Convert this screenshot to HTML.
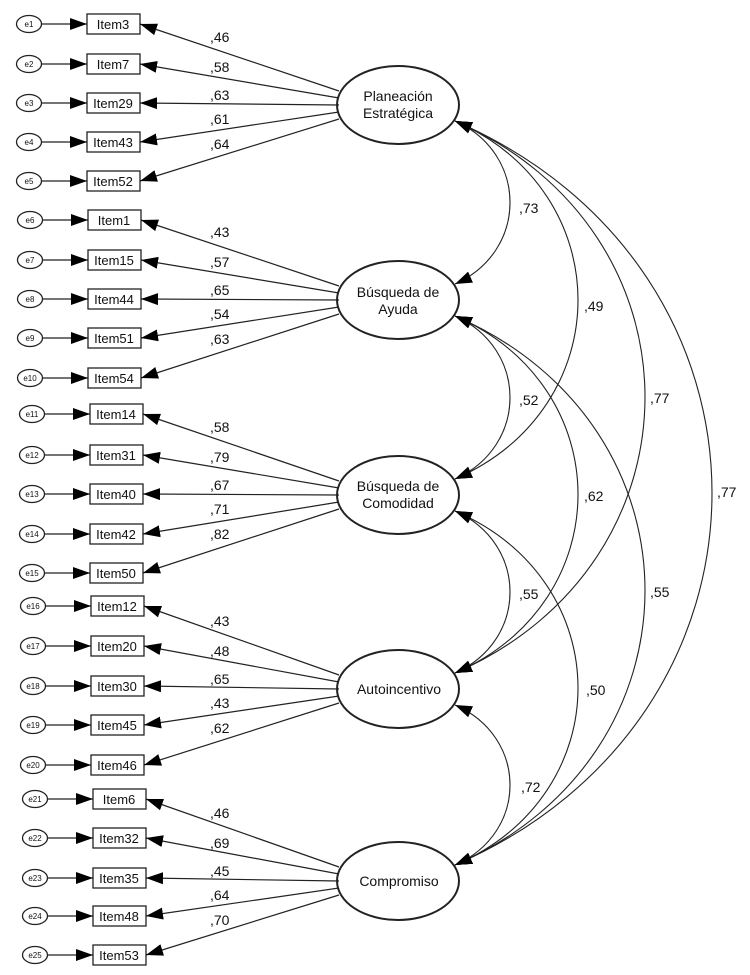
<!DOCTYPE html>
<html><head><meta charset="utf-8"><style>
html,body{margin:0;padding:0;background:#fff}
svg{display:block}
text{font-family:"Liberation Sans",Arial,sans-serif;fill:#111}
.it{font-size:13px;text-anchor:middle}
.e{font-size:8px;text-anchor:middle}
.f{font-size:14px;text-anchor:middle}
.l{font-size:14px}
</style></head><body>
<svg id="s" width="750" height="975" viewBox="0 0 750 975" xmlns="http://www.w3.org/2000/svg">
<defs>
<marker id="a" markerUnits="userSpaceOnUse" markerWidth="18" markerHeight="13" refX="17" refY="6" orient="auto-start-reverse" viewBox="0 0 18 12">
<path d="M0,0 L17,6 L0,12 z" fill="#000"/></marker>
</defs>
<g id="shapes" stroke="#222" fill="none"></g>
<g id="texts">
<text class="e" x="29" y="27">e1</text><text class="it" x="113" y="29">Item3</text>
<text class="e" x="29" y="67">e2</text><text class="it" x="113" y="69">Item7</text>
<text class="e" x="29" y="106">e3</text><text class="it" x="113" y="108">Item29</text>
<text class="e" x="29" y="145">e4</text><text class="it" x="113" y="147">Item43</text>
<text class="e" x="29" y="184">e5</text><text class="it" x="113" y="186">Item52</text>
<text class="e" x="30" y="223">e6</text><text class="it" x="114" y="225">Item1</text>
<text class="e" x="30" y="263">e7</text><text class="it" x="114" y="265">Item15</text>
<text class="e" x="30" y="302">e8</text><text class="it" x="114" y="304">Item44</text>
<text class="e" x="30" y="341">e9</text><text class="it" x="114" y="343">Item51</text>
<text class="e" x="30" y="381">e10</text><text class="it" x="114" y="383">Item54</text>
<text class="e" x="32" y="417">e11</text><text class="it" x="116" y="419">Item14</text>
<text class="e" x="32" y="458">e12</text><text class="it" x="116" y="460">Item31</text>
<text class="e" x="32" y="497">e13</text><text class="it" x="116" y="499">Item40</text>
<text class="e" x="32" y="537">e14</text><text class="it" x="116" y="539">Item42</text>
<text class="e" x="32" y="576">e15</text><text class="it" x="116" y="578">Item50</text>
<text class="e" x="33" y="609">e16</text><text class="it" x="117" y="611">Item12</text>
<text class="e" x="33" y="649">e17</text><text class="it" x="117" y="651">Item20</text>
<text class="e" x="33" y="689">e18</text><text class="it" x="117" y="691">Item30</text>
<text class="e" x="33" y="728">e19</text><text class="it" x="117" y="730">Item45</text>
<text class="e" x="33" y="768">e20</text><text class="it" x="117" y="770">Item46</text>
<text class="e" x="35" y="802">e21</text><text class="it" x="119" y="804">Item6</text>
<text class="e" x="35" y="841">e22</text><text class="it" x="119" y="843">Item32</text>
<text class="e" x="35" y="881">e23</text><text class="it" x="119" y="883">Item35</text>
<text class="e" x="35" y="919">e24</text><text class="it" x="119" y="921">Item48</text>
<text class="e" x="35" y="958">e25</text><text class="it" x="119" y="960">Item53</text>
<text class="f" x="398" y="101">Planeación</text><text class="f" x="398" y="118">Estratégica</text>
<text class="f" x="398" y="297">Búsqueda de</text><text class="f" x="398" y="314">Ayuda</text>
<text class="f" x="398" y="491">Búsqueda de</text><text class="f" x="398" y="508">Comodidad</text>
<text class="f" x="399" y="694">Autoincentivo</text>
<text class="f" x="399" y="886">Compromiso</text>
<text class="l" x="210" y="42">,46</text><text class="l" x="210" y="72">,58</text><text class="l" x="210" y="100">,63</text><text class="l" x="210" y="124">,61</text><text class="l" x="210" y="149">,64</text>
<text class="l" x="210" y="237">,43</text><text class="l" x="210" y="267">,57</text><text class="l" x="210" y="295">,65</text><text class="l" x="210" y="319">,54</text><text class="l" x="210" y="344">,63</text>
<text class="l" x="210" y="432">,58</text><text class="l" x="210" y="462">,79</text><text class="l" x="210" y="490">,67</text><text class="l" x="210" y="514">,71</text><text class="l" x="210" y="539">,82</text>
<text class="l" x="210" y="626">,43</text><text class="l" x="210" y="656">,48</text><text class="l" x="210" y="684">,65</text><text class="l" x="210" y="708">,43</text><text class="l" x="210" y="733">,62</text>
<text class="l" x="210" y="818">,46</text><text class="l" x="210" y="848">,69</text><text class="l" x="210" y="876">,45</text><text class="l" x="210" y="900">,64</text><text class="l" x="210" y="925">,70</text>
<text class="l" x="519" y="213">,73</text><text class="l" x="584" y="311">,49</text><text class="l" x="650" y="403">,77</text><text class="l" x="717" y="497">,77</text>
<text class="l" x="519" y="405">,52</text><text class="l" x="584" y="501">,62</text><text class="l" x="650" y="597">,55</text>
<text class="l" x="519" y="599">,55</text><text class="l" x="586" y="695">,50</text>
<text class="l" x="521" y="792">,72</text>
</g>
</svg>
<script>
(function(){
var g=document.getElementById('shapes'),NS='http://www.w3.org/2000/svg';
function el(t,a){var e=document.createElementNS(NS,t);for(var k in a)e.setAttribute(k,a[k]);g.appendChild(e);return e;}
var rows=[[24,64,103,142,181],[220,260,299,338,378],[414,455,494,534,573],[606,646,686,725,765],[799,838,878,916,955]];
var sh=[0,1,3,4,6];
var fy=[105,300,495,689,881];
var off=[-14,-7,0,7,14];
for(var gi=0;gi<5;gi++){
 var s=sh[gi];
 for(var r=0;r<5;r++){
  var y=rows[gi][r];
  el('ellipse',{cx:29+s,cy:y,rx:12.5,ry:8.5,'stroke-width':1.3});
  el('rect',{x:87+s,y:y-10,width:53,height:20,'stroke-width':1.3});
  el('line',{x1:41.5+s,y1:y,x2:87+s,y2:y,'stroke-width':1.2,'marker-end':'url(#a)'});
  el('line',{x1:339,y1:fy[gi]+off[r],x2:140+s,y2:y,'stroke-width':1.2,'marker-end':'url(#a)'});
 }
 el('ellipse',{cx:398,cy:fy[gi],rx:61,ry:39,'stroke-width':2});
}
var bul={1:510,2:578,3:645,4:712};
for(var i=0;i<5;i++)for(var j=i+1;j<5;j++){
 var sx=455,y1=fy[i]+16,y2=fy[j]-16,B=bul[j-i],X=(B-0.25*sx)/0.75,dy=y2-y1;
 el('path',{d:'M'+sx+','+y1+' C'+X+','+(y1+dy*0.2)+' '+X+','+(y2-dy*0.2)+' '+sx+','+y2,'stroke-width':1.1,'marker-start':'url(#a)','marker-end':'url(#a)'});
}
})();
</script>
</body></html>
